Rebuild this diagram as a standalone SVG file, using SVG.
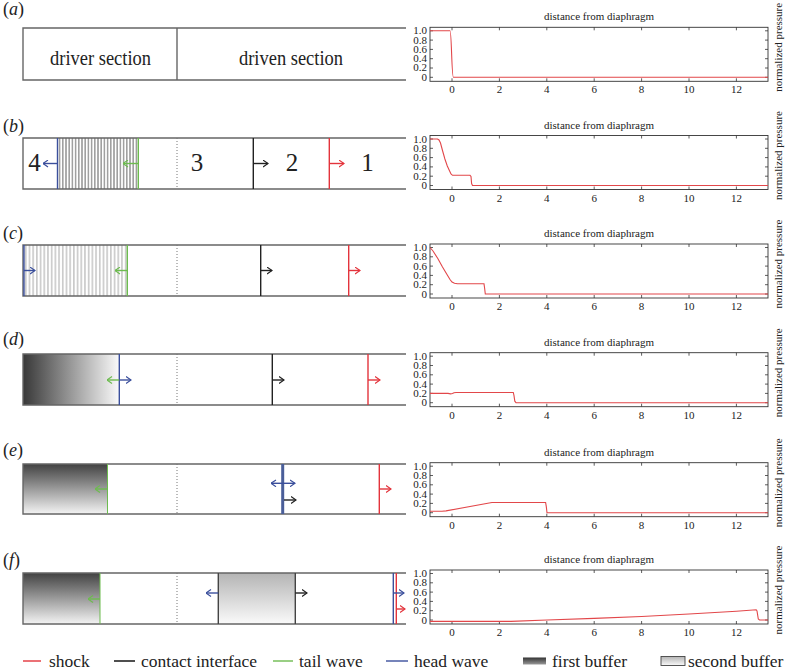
<svg xmlns="http://www.w3.org/2000/svg" xmlns:xlink="http://www.w3.org/1999/xlink" width="791" height="671" viewBox="0 0 791 671" font-family="'Liberation Serif', 'DejaVu Serif', serif">
<style>
text{font-family:'Liberation Serif','DejaVu Serif',serif;fill:#222}
.tube{fill:none;stroke:#666;stroke-width:1.4}
.dot{stroke:#777;stroke-width:1;stroke-dasharray:1,2}
.red{stroke:#e3343c;stroke-width:1.4;fill:none}
.blk{stroke:#222;stroke-width:1.4;fill:none}
.grn{stroke:#6dbb4f;stroke-width:1.4;fill:none}
.blu{stroke:#3b4f9c;stroke-width:1.4;fill:none}
.ar{stroke-width:1.2}
.lbl{font-size:18px}
.big{font-size:25px}
.tk{font-size:11px}
.ttl{font-size:11px}
.curve{fill:none;stroke:#e2474a;stroke-width:1.1}
.leg{font-size:17.5px}
</style>
<defs>
<marker id="mr" viewBox="0 0 6 8" refX="5.5" refY="4" markerWidth="6" markerHeight="8" markerUnits="userSpaceOnUse" orient="auto-start-reverse"><path d="M0.5,0.6 L5.5,4 L0.5,7.4" fill="none" stroke="#e3343c" stroke-width="1.2"/></marker>
<marker id="mk" viewBox="0 0 6 8" refX="5.5" refY="4" markerWidth="6" markerHeight="8" markerUnits="userSpaceOnUse" orient="auto-start-reverse"><path d="M0.5,0.6 L5.5,4 L0.5,7.4" fill="none" stroke="#222" stroke-width="1.2"/></marker>
<marker id="mg" viewBox="0 0 6 8" refX="5.5" refY="4" markerWidth="6" markerHeight="8" markerUnits="userSpaceOnUse" orient="auto-start-reverse"><path d="M0.5,0.6 L5.5,4 L0.5,7.4" fill="none" stroke="#6dbb4f" stroke-width="1.2"/></marker>
<marker id="mb" viewBox="0 0 6 8" refX="5.5" refY="4" markerWidth="6" markerHeight="8" markerUnits="userSpaceOnUse" orient="auto-start-reverse"><path d="M0.5,0.6 L5.5,4 L0.5,7.4" fill="none" stroke="#3b4f9c" stroke-width="1.2"/></marker>
<pattern id="hb" patternUnits="userSpaceOnUse" x="58" y="0" width="3.2" height="10"><line x1="1.6" y1="0" x2="1.6" y2="10" stroke="#555" stroke-width="0.9"/></pattern>
<pattern id="hc" patternUnits="userSpaceOnUse" x="24" y="0" width="3.7" height="10"><line x1="1.8" y1="0" x2="1.8" y2="10" stroke="#999" stroke-width="0.9"/></pattern>
<linearGradient id="gd" x1="0" y1="0" x2="1" y2="0"><stop offset="0" stop-color="#383838"/><stop offset="1" stop-color="#fafafa"/></linearGradient>
<linearGradient id="gv" x1="0" y1="0" x2="0" y2="1"><stop offset="0" stop-color="#424242"/><stop offset="1" stop-color="#f4f4f4"/></linearGradient>
<linearGradient id="g2" x1="0" y1="0" x2="0" y2="1"><stop offset="0" stop-color="#b4b4b4"/><stop offset="1" stop-color="#fafafa"/></linearGradient>
<linearGradient id="gl" x1="0" y1="0" x2="0" y2="1"><stop offset="0" stop-color="#333"/><stop offset="1" stop-color="#999"/></linearGradient>
<g id="axes">
<rect x="430" y="0" width="338" height="54" fill="none" stroke="#333" stroke-width="0.9"/>
<path d="M452,0v3M499.4,0v3M546.8,0v3M594.2,0v3M641.6,0v3M689,0v3M736.4,0v3M452,54v-3M499.4,54v-3M546.8,54v-3M594.2,54v-3M641.6,54v-3M689,54v-3M736.4,54v-3M430,50h3M430,40.7h3M430,31.4h3M430,22.1h3M430,12.8h3M430,3.5h3M768,50h-3M768,40.7h-3M768,31.4h-3M768,22.1h-3M768,12.8h-3M768,3.5h-3" stroke="#333" stroke-width="0.8" fill="none"/>
<g class="tk" text-anchor="end">
<text x="427" y="53.5">0</text><text x="427" y="44.2">0.2</text><text x="427" y="34.9">0.4</text><text x="427" y="25.6">0.6</text><text x="427" y="16.3">0.8</text><text x="427" y="7">1.0</text>
</g>
<g class="tk" text-anchor="middle">
<text x="452" y="66">0</text><text x="499.4" y="66">2</text><text x="546.8" y="66">4</text><text x="594.2" y="66">6</text><text x="641.6" y="66">8</text><text x="689" y="66">10</text><text x="736.4" y="66">12</text>
</g>
<text class="ttl" x="599" y="-7" text-anchor="middle">distance from diaphragm</text>
<text class="ttl" transform="translate(782,20) rotate(-90)" text-anchor="middle">normalized pressure</text>
</g>
</defs>

<!-- panel a -->
<g id="panel-a">
<text class="lbl" x="3" y="15">(<tspan font-style="italic">a</tspan>)</text>
<path class="tube" d="M406,28H23V80H406M177,28V80"/>
<text x="100.5" y="65" font-size="21" text-anchor="middle" textLength="101" lengthAdjust="spacingAndGlyphs">driver section</text>
<text x="291" y="65" font-size="21" text-anchor="middle" textLength="104" lengthAdjust="spacingAndGlyphs">driven section</text>
<g id="plot-a" transform="translate(0,27.3)">
<use xlink:href="#axes"/>
<path class="curve" d="M430,3.5L450,3.5C451.6,3.5 451.6,50 453.4,50L768,50"/>
</g>
</g>

<!-- panel b -->
<g id="panel-b">
<text class="lbl" x="3" y="132">(<tspan font-style="italic">b</tspan>)</text>
<rect x="58" y="138" width="80" height="51" fill="url(#hb)"/>
<path class="tube" d="M406,138H23V189H406"/>
<line class="dot" x1="177" y1="138" x2="177" y2="189"/>
<line class="blu" x1="57.5" y1="138" x2="57.5" y2="189"/>
<line class="grn" x1="138.3" y1="138" x2="138.3" y2="189"/>
<line class="blk" x1="253.3" y1="138" x2="253.3" y2="189"/>
<line class="red" x1="329.3" y1="138" x2="329.3" y2="189"/>
<text class="big" x="34.5" y="171" text-anchor="middle">4</text>
<text class="big" x="197" y="171" text-anchor="middle">3</text>
<text class="big" x="292" y="171" text-anchor="middle">2</text>
<text class="big" x="367.5" y="171" text-anchor="middle">1</text>
<g id="plot-b" transform="translate(0,135.5)">
<use xlink:href="#axes"/>
<polyline class="curve" points="430,3.5 437.5,3.5 439,4.5 440.5,7.5 442.5,15 444.9,23.5 447.3,30.5 449.6,35.5 451,38.5 452.5,39.8 470,39.8 471,41 471.6,48 472.5,50 768,50"/>
</g>
</g>

<!-- panel c -->
<g id="panel-c">
<text class="lbl" x="3" y="239">(<tspan font-style="italic">c</tspan>)</text>
<rect x="24" y="245" width="103" height="51" fill="url(#hc)"/>
<path class="tube" d="M406,245H23V296H406"/>
<line class="dot" x1="177" y1="245" x2="177" y2="296"/>
<line class="blu" x1="24" y1="245" x2="24" y2="296"/>
<line class="grn" x1="127.3" y1="245" x2="127.3" y2="296"/>
<line class="blk" x1="260.7" y1="245" x2="260.7" y2="296"/>
<line class="red" x1="348.7" y1="245" x2="348.7" y2="296"/>
<g id="plot-c" transform="translate(0,244)">
<use xlink:href="#axes"/>
<polyline class="curve" points="430,3.5 433,7 437.8,14.5 442.5,23 447.3,31 450,35.5 452,38 454.5,39.3 457.5,39.8 484,39.8 484.6,44 485.3,50 768,50"/>
</g>
</g>

<!-- panel d -->
<g id="panel-d">
<text class="lbl" x="3" y="345">(<tspan font-style="italic">d</tspan>)</text>
<rect x="23" y="354" width="96.3" height="51" fill="url(#gd)"/>
<path class="tube" d="M406,354H23V405H406"/>
<line class="dot" x1="177" y1="354" x2="177" y2="405"/>
<line class="blu" x1="119.3" y1="354" x2="119.3" y2="405"/>
<line class="blk" x1="272.3" y1="354" x2="272.3" y2="405"/>
<line class="red" x1="368" y1="354" x2="368" y2="405"/>
<g id="plot-d" transform="translate(0,352.7)">
<use xlink:href="#axes"/>
<polyline class="curve" points="430,40.7 448,40.7 450.5,41.2 452.5,40.8 454,40 456,39.8 513.3,39.8 514,43 514.8,48.5 516,50 768,50"/>
</g>
</g>

<!-- panel e -->
<g id="panel-e">
<text class="lbl" x="3" y="456">(<tspan font-style="italic">e</tspan>)</text>
<rect x="23" y="464" width="84.5" height="50" fill="url(#gv)"/>
<path class="tube" d="M406,464H23V514H406"/>
<line class="dot" x1="177" y1="464" x2="177" y2="514"/>
<line x1="107.5" y1="464" x2="107.5" y2="514" stroke="#6dbb4f" stroke-width="1"/>
<line x1="282.7" y1="464" x2="282.7" y2="514" stroke="#4a5e99" stroke-width="3"/>
<line class="red" x1="379.3" y1="464" x2="379.3" y2="514"/>
<g id="plot-e" transform="translate(0,462.7)">
<use xlink:href="#axes"/>
<polyline class="curve" points="430,48.6 442,48.6 446,48.2 490.5,40 492,39.8 545.6,39.8 546.3,44 547,50 768,50"/>
</g>
</g>

<!-- panel f -->
<g id="panel-f">
<text class="lbl" x="3" y="566">(<tspan font-style="italic">f</tspan>)</text>
<rect x="23" y="573" width="77" height="51" fill="url(#gv)"/>
<rect x="218.3" y="573" width="77" height="51" fill="url(#g2)"/>
<path class="tube" d="M406,573H23V624H406"/>
<line class="dot" x1="177" y1="573" x2="177" y2="624"/>
<line x1="100" y1="573" x2="100" y2="624" stroke="#6dbb4f" stroke-width="1"/>
<line x1="218.3" y1="573" x2="218.3" y2="624" stroke="#444" stroke-width="1.4"/>
<line x1="295.3" y1="573" x2="295.3" y2="624" stroke="#444" stroke-width="1.4"/>
<line class="blu" x1="393.3" y1="573" x2="393.3" y2="624"/>
<line class="red" x1="396.3" y1="573" x2="396.3" y2="624"/>
<g id="plot-f" transform="translate(0,570)">
<use xlink:href="#axes"/>
<polyline class="curve" points="430,51.4 511,51.4 547,50 594.2,48.4 641.6,46.5 689,44 736.4,41.2 756.2,39.8 757,41 758.3,49 759.5,50 768,50"/>
</g>
</g>

<!-- connectors (wave arrows) -->
<g id="connectors" class="ar">
<line class="blu" x1="57.5" y1="163.5" x2="43" y2="163.5" marker-end="url(#mb)"/>
<line class="grn" x1="138.3" y1="163.5" x2="123" y2="163.5" marker-end="url(#mg)"/>
<line class="blk" x1="253.3" y1="163.5" x2="268" y2="163.5" marker-end="url(#mk)"/>
<line class="red" x1="329.3" y1="163.5" x2="344" y2="163.5" marker-end="url(#mr)"/>

<line class="blu" x1="24" y1="270.5" x2="35" y2="270.5" marker-end="url(#mb)"/>
<line class="grn" x1="127.3" y1="270.5" x2="115" y2="270.5" marker-end="url(#mg)"/>
<line class="blk" x1="260.7" y1="270.5" x2="272" y2="270.5" marker-end="url(#mk)"/>
<line class="red" x1="348.7" y1="270.5" x2="360" y2="270.5" marker-end="url(#mr)"/>

<line class="grn" x1="119.3" y1="380" x2="107" y2="380" marker-end="url(#mg)"/>
<line class="blu" x1="119.3" y1="380" x2="131" y2="380" marker-end="url(#mb)"/>
<line class="blk" x1="272.3" y1="380" x2="284" y2="380" marker-end="url(#mk)"/>
<line class="red" x1="368" y1="380" x2="380" y2="380" marker-end="url(#mr)"/>

<line class="grn" x1="107.5" y1="489" x2="95" y2="489" marker-end="url(#mg)"/>
<line class="blu" x1="271" y1="483.3" x2="295" y2="483.3" marker-start="url(#mb)" marker-end="url(#mb)"/>
<line class="blk" x1="284" y1="500" x2="296" y2="500" marker-end="url(#mk)"/>
<line class="red" x1="379.3" y1="489" x2="391" y2="489" marker-end="url(#mr)"/>

<line class="grn" x1="100" y1="599" x2="88" y2="599" marker-end="url(#mg)"/>
<line class="blu" x1="218.3" y1="593" x2="206" y2="593" marker-end="url(#mb)"/>
<line class="blk" x1="295.3" y1="593" x2="307" y2="593" marker-end="url(#mk)"/>
<line class="blu" x1="393.3" y1="593" x2="404" y2="593" marker-end="url(#mb)"/>
<line class="red" x1="396.3" y1="609" x2="405" y2="609" marker-end="url(#mr)"/>
</g>

<!-- legend -->
<g id="legend">
<line x1="23" y1="661" x2="41" y2="661" stroke="#e3343c" stroke-width="1.4"/>
<text class="leg" x="49" y="667">shock</text>
<line x1="114" y1="661" x2="135" y2="661" stroke="#222" stroke-width="1.6"/>
<text class="leg" x="141" y="667">contact interface</text>
<line x1="273" y1="661" x2="293" y2="661" stroke="#6dbb4f" stroke-width="1.4"/>
<text class="leg" x="299" y="667">tail wave</text>
<line x1="386" y1="661" x2="408" y2="661" stroke="#3b4f9c" stroke-width="1.4"/>
<text class="leg" x="414" y="667">head wave</text>
<rect x="523" y="657.5" width="23" height="7" fill="url(#gl)"/>
<text class="leg" x="552" y="667">first buffer</text>
<rect x="661" y="656.5" width="24" height="9" fill="url(#g2)" stroke="#444" stroke-width="0.9"/>
<text class="leg" x="688" y="667">second buffer</text>
</g>
</svg>
